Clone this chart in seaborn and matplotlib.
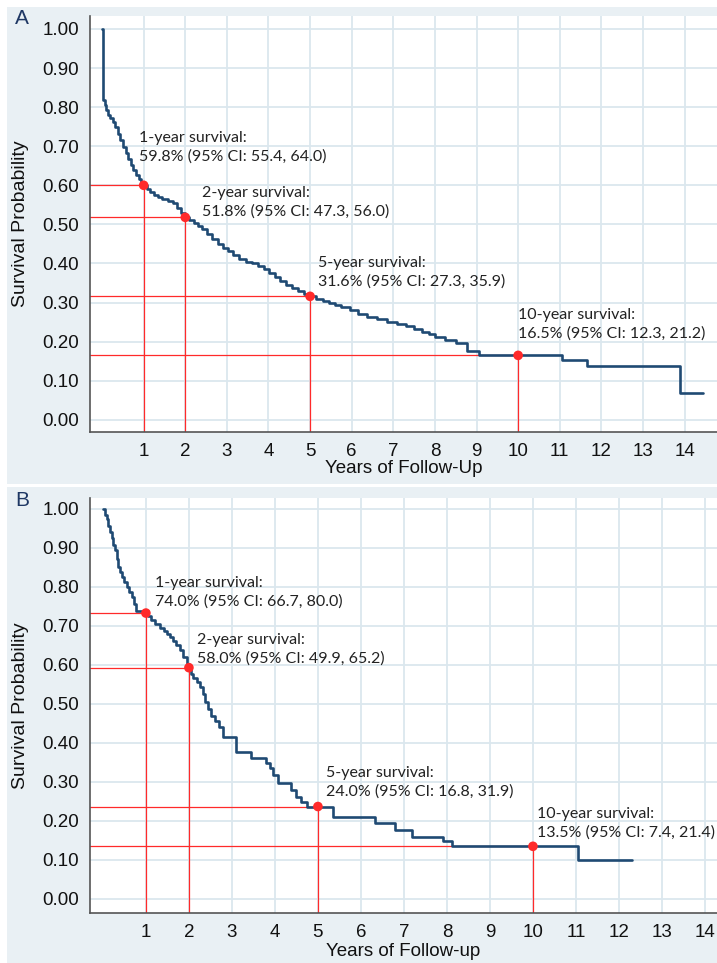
import matplotlib
matplotlib.use("Agg")
from matplotlib import pyplot as plt
from matplotlib import font_manager
from matplotlib.patches import Rectangle
import pandas as pd
import seaborn as sns

# panel A - Kaplan-Meier steps
time_a = [0.00, 0.02, 0.06, 0.10, 0.15, 0.20, 0.26, 0.32, 0.38, 0.44, 0.50, 0.57, 0.63, 0.69,
          0.75, 0.82, 0.88, 0.94, 1.00, 1.08, 1.16, 1.25, 1.34, 1.45, 1.58, 1.70, 1.80, 1.90,
          2.00, 2.10, 2.20, 2.30, 2.40, 2.52, 2.65, 2.78, 2.90, 3.02, 3.15, 3.30, 3.45, 3.60,
          3.75, 3.90, 4.02, 4.15, 4.28, 4.42, 4.56, 4.70, 4.85, 5.00, 5.15, 5.30, 5.45, 5.60,
          5.75, 5.95, 6.15, 6.37, 6.60, 6.85, 7.10, 7.30, 7.50, 7.70, 7.85, 8.00, 8.25, 8.50,
          8.78, 9.05, 11.05, 11.65, 13.88, 14.45]
surv_a = [1.000, 0.818, 0.805, 0.792, 0.780, 0.772, 0.762, 0.748, 0.732, 0.715, 0.698, 0.683,
          0.668, 0.652, 0.639, 0.627, 0.617, 0.607, 0.600, 0.590, 0.582, 0.576, 0.570, 0.565,
          0.560, 0.554, 0.543, 0.530, 0.518, 0.510, 0.503, 0.496, 0.488, 0.475, 0.462, 0.450,
          0.440, 0.432, 0.422, 0.412, 0.405, 0.400, 0.394, 0.385, 0.375, 0.365, 0.354, 0.345,
          0.337, 0.330, 0.322, 0.316, 0.310, 0.305, 0.300, 0.294, 0.288, 0.280, 0.272, 0.263,
          0.257, 0.250, 0.245, 0.240, 0.233, 0.226, 0.219, 0.212, 0.204, 0.197, 0.176, 0.166,
          0.153, 0.138, 0.069, 0.069]

# panel B
time_b = [0.00, 0.05, 0.09, 0.13, 0.16, 0.20, 0.24, 0.28, 0.32, 0.35, 0.40, 0.44, 0.50, 0.55,
          0.61, 0.67, 0.72, 0.78, 1.05, 1.12, 1.20, 1.33, 1.42, 1.48, 1.55, 1.63, 1.70, 1.79,
          1.87, 1.95, 2.00, 2.05, 2.10, 2.18, 2.26, 2.32, 2.38, 2.45, 2.52, 2.60, 2.70, 2.80,
          3.10, 3.45, 3.80, 3.88, 3.95, 4.08, 4.38, 4.50, 4.60, 4.74, 5.35, 6.33, 6.80, 7.18,
          7.90, 8.12, 11.04, 12.30]
surv_b = [1.000, 0.985, 0.975, 0.955, 0.940, 0.925, 0.908, 0.895, 0.872, 0.851, 0.838, 0.826,
          0.812, 0.800, 0.787, 0.774, 0.755, 0.738, 0.725, 0.715, 0.705, 0.695, 0.688, 0.680,
          0.672, 0.662, 0.652, 0.638, 0.620, 0.602, 0.593, 0.578, 0.566, 0.556, 0.544, 0.525,
          0.505, 0.488, 0.470, 0.455, 0.440, 0.415, 0.378, 0.362, 0.349, 0.335, 0.318, 0.297,
          0.279, 0.262, 0.249, 0.237, 0.210, 0.195, 0.177, 0.160, 0.149, 0.135, 0.100, 0.100]

mark_years = [1, 2, 5, 10]
mark_a = [0.600, 0.518, 0.316, 0.165]
mark_b = [0.733, 0.593, 0.237, 0.135]

labels_a = ["1-year survival:\n59.8% (95% CI: 55.4, 64.0)",
            "2-year survival:\n51.8% (95% CI: 47.3, 56.0)",
            "5-year survival:\n31.6% (95% CI: 27.3, 35.9)",
            "10-year survival:\n16.5% (95% CI: 12.3, 21.2)"]
labels_b = ["1-year survival:\n74.0% (95% CI: 66.7, 80.0)",
            "2-year survival:\n58.0% (95% CI: 49.9, 65.2)",
            "5-year survival:\n24.0% (95% CI: 16.8, 31.9)",
            "10-year survival:\n13.5% (95% CI: 7.4, 21.4)"]
label_pos_a = [(0.89, 0.740), (2.40, 0.599), (5.20, 0.420), (10.0, 0.287)]
label_pos_b = [(1.21, 0.829), (2.18, 0.683), (5.19, 0.342), (10.1, 0.237)]

x_ticks = list(range(1, 15))
y_ticks = [0.0, 0.1, 0.2, 0.3, 0.4, 0.5, 0.6, 0.7, 0.8, 0.9, 1.0]

sns.set_style("white")
installed = {f.name for f in font_manager.fontManager.ttflist}
tick_font = "Liberation Sans Narrow" if "Liberation Sans Narrow" in installed else "Liberation Sans"
plt.rcParams['font.family'] = [tick_font, 'DejaVu Sans']

panel_bg = "#e9f0f4"
grid_col = "#dbe7ee"
curve_col = "#1f4a73"
red = "#ff2a2a"

fig = plt.figure(figsize=(7.17, 9.63), dpi=100)
W, H = 717, 963
fig.patches.append(Rectangle((7 / W, 1 - 484 / H), 1 - 7 / W, 477 / H, transform=fig.transFigure,
                             facecolor=panel_bg, edgecolor='none', zorder=-10))
fig.patches.append(Rectangle((7 / W, 0), 1 - 7 / W, 1 - 487 / H, transform=fig.transFigure,
                             facecolor=panel_bg, edgecolor='none', zorder=-10))

axA = fig.add_axes([90 / W, 1 - 432 / H, 627 / W, 416 / H])
axB = fig.add_axes([90 / W, 1 - 913 / H, 627 / W, 415 / H])


def panel(ax, t, s, marks, texts, pos, xlim, ylim, xlabel, letter, lab_y):
    df = pd.DataFrame({'time': t, 'surv': s})
    ax.set_xlim(*xlim)
    ax.set_ylim(*ylim)
    ax.set_xticks(x_ticks)
    ax.set_yticks(y_ticks)
    ax.set_yticklabels([f"{v:.2f}" for v in y_ticks])
    ax.grid(True, color=grid_col, lw=1.3, zorder=0)
    ax.set_axisbelow(True)

    for yr, v in zip(mark_years, marks):
        ax.plot([xlim[0], yr], [v, v], color=red, lw=0.9, zorder=2)
        ax.plot([yr, yr], [ylim[0], v], color=red, lw=0.9, zorder=2)

    sns.lineplot(x='time', y='surv', data=df, ax=ax, color=curve_col, lw=1.9,
                 drawstyle='steps-post', estimator=None, sort=False, zorder=3)
    ax.scatter(mark_years, marks, s=48, color=red, zorder=4, edgecolor='none')

    for txt, (x, y) in zip(texts, pos):
        ax.text(x, y, txt, ha='left', va='top', fontsize=11.5, family=['Lato', 'DejaVu Sans'],
                color='#222222', linespacing=1.45)

    for side in ['top', 'right']:
        ax.spines[side].set_visible(False)
    for side in ['left', 'bottom']:
        ax.spines[side].set_color('#555555')
        ax.spines[side].set_linewidth(1.2)
    ax.tick_params(axis='both', direction='out', length=5, width=1, color='#555555',
                   labelsize=13.5, labelcolor='#111111', pad=3)
    ax.set_xlabel(xlabel, fontsize=13.5, color='#111111')
    ax.set_ylabel("Survival Probability", fontsize=14, color='#111111')
    ax.yaxis.set_label_coords(-0.098, 0.5)
    ax.xaxis.set_label_coords(0.5, lab_y)
    ax.text(-0.12, 0.995, letter, transform=ax.transAxes, fontsize=15, color='#1f3864',
            family=['Liberation Sans', 'DejaVu Sans'], ha='left', va='center')


panel(axA, time_a, surv_a, mark_a, labels_a, label_pos_a, (-0.29, 14.78), (-0.031, 1.033),
      "Years of Follow-Up", "A", -0.067)
panel(axB, time_b, surv_b, mark_b, labels_b, label_pos_b, (-0.30, 14.28), (-0.036, 1.028),
      "Years of Follow-up", "B", -0.073)

fig.savefig("out.png", dpi=100, facecolor='white')
plt.close()
